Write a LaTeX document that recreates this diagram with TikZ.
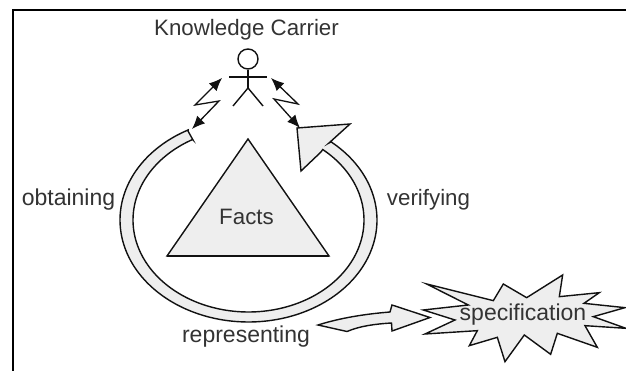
\documentclass[tikz,border=0pt]{standalone}
\usepackage{fontspec}
\setmainfont{Liberation Sans}
\usetikzlibrary{arrows.meta}
\definecolor{shade}{HTML}{EEEEEE}
\definecolor{ink}{HTML}{111111}
\definecolor{lbl}{HTML}{333333}
\tikzset{
  x=1pt,y=-1pt,
  shapeline/.style={draw=ink,line width=1.4pt,fill=shade,line join=miter},
  figline/.style={draw=ink,line width=1.4pt},
  bolt/.style={draw=ink,line width=1.3pt,line join=miter,{Latex[length=13pt,width=11pt]}-{Latex[length=13pt,width=11pt]}},
  lab/.style={text=lbl,inner sep=0pt,font=\fontsize{23}{25}\selectfont},
  labs/.style={text=lbl,inner sep=0pt,font=\fontsize{22.3}{25}\selectfont}
}
\begin{document}
\begin{tikzpicture}
\useasboundingbox (0,0) rectangle (626,371);
\fill[white] (0,0) rectangle (626,371);
% frame
\draw[line width=2.2pt,black] (13,371) -- (13,10) -- (626,10);
% ring with arrow head
\path[shapeline] (188,131)
  -- plot[domain=118:410,samples=80,smooth] ({248.5+128.5*cos(\x)},{220-102*sin(\x)})
  -- (329,143) -- (350,124) -- (297,128) -- (301,171) -- (321,152)
  -- plot[domain=410:119,samples=80,smooth] ({248.5+115.5*cos(\x)},{220-92*sin(\x)})
  -- (193,140) -- cycle;
% triangle
\path[shapeline] (248,139) -- (329,256) -- (167,256) -- cycle;
\draw[ink,line width=2pt] (167,256) -- (329,256);
% person
\node[draw=ink,line width=1.4pt,circle,minimum size=20pt,inner sep=0pt] (head) at (248,59) {};
\coordinate (hip) at (248,88);
\coordinate (armL) at (229,77);
\coordinate (armR) at (267,77);
\coordinate (footL) at (233,106);
\coordinate (footR) at (263,106);
\draw[figline] (head.south) -- (hip);
\draw[ink,line width=1.8pt] (armL) -- (armR);
\draw[figline] (footL) -- (hip) -- (footR);
% lightning connectors
\coordinate (boltLa) at (222,78);
\coordinate (boltLb) at (195,105);
\coordinate (boltLc) at (219,101);
\coordinate (boltLd) at (192,129);
\coordinate (boltRa) at (271,78);
\coordinate (boltRb) at (298,104);
\coordinate (boltRc) at (274,99);
\coordinate (boltRd) at (300,128);
\draw[bolt] (boltLa) -- (boltLb) -- (boltLc) -- (boltLd);
\draw[bolt] (boltRa) -- (boltRb) -- (boltRc) -- (boltRd);
% block arrow
\path[shapeline] (318,325)
  .. controls (340,318) and (365,314) .. (390,312)
  -- (392,305) -- (430,317.5) -- (392,331) -- (391.5,323)
  .. controls (375,324) and (360,326) .. (347,331.5)
  -- cycle;
% star
\begin{scope}[shift={(340,260)},x=0.3333pt,y=-0.3333pt]
\path[shapeline] (260,72) -- (460,122) -- (490,72) -- (560,113) -- (668,45) -- (658,110)
  -- (778,98) -- (732,130) -- (855,143) -- (760,170) -- (858,205) -- (735,197) -- (772,262)
  -- (652,220) -- (632,283) -- (553,225) -- (495,305) -- (472,232) -- (388,257) -- (412,212)
  -- (255,222) -- (345,180) -- (250,150) -- (385,135) -- cycle;
\end{scope}
% labels
\node[labs] (carrier) at (246.5,30) {Knowledge Carrier};
\node[labs] (facts) at (246.5,217) {Facts};
\node[lab] (obtaining) at (68.5,200) {obtaining};
\node[labs] (verifying) at (428.5,200) {verifying};
\node[lab] (representing) at (246,337) {representing};
\node[lab] (spec) at (523,315) {specification};
\end{tikzpicture}
\end{document}
